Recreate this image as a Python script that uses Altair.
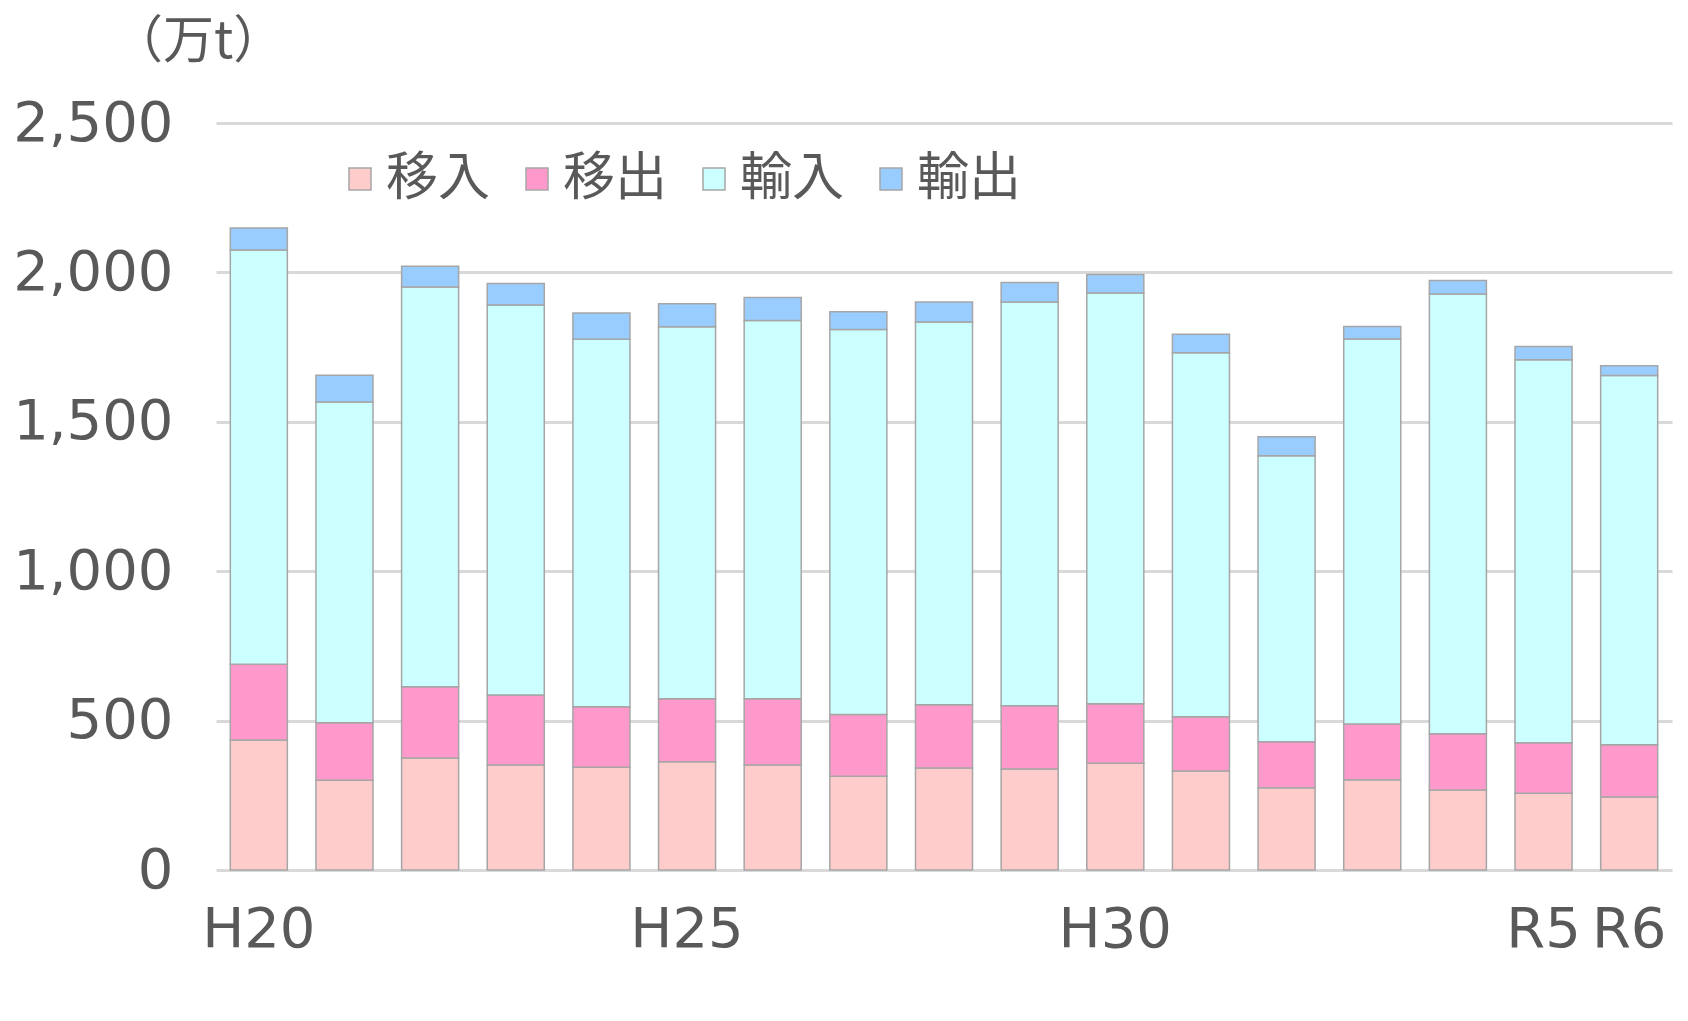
import altair as alt
import pandas as pd

categories = ["H20", "H21", "H22", "H23", "H24", "H25", "H26", "H27", "H28",
              "H29", "H30", "R1", "R2", "R3", "R4", "R5", "R6"]
series_names = ["移入", "移出", "輸入", "輸出"]
iri = [435, 300, 375, 351, 344, 362, 351, 314, 341, 338, 357, 331, 275, 302, 268, 257, 244]
ide = [254, 193, 238, 235, 202, 211, 222, 206, 212, 212, 199, 182, 154, 187, 188, 169, 175]
yunyu = [1386, 1073, 1338, 1305, 1230, 1245, 1266, 1289, 1281, 1351, 1375, 1218, 957, 1288, 1472, 1282, 1236]
yushutsu = [74, 90, 70, 72, 88, 77, 77, 59, 67, 65, 62, 62, 64, 42, 45, 44, 33]
colors = ["#ffcccc", "#ff99cc", "#ccffff", "#99ccff"]
shown_labels = ["H20", "H25", "H30", "R5", "R6"]
unit_title = ["（万t）"]

rows = []
for si, (name, vals) in enumerate(zip(series_names, [iri, ide, yunyu, yushutsu])):
    for c, v in zip(categories, vals):
        rows.append({"year": c, "series": name, "value": v, "ord": si})
df = pd.DataFrame(rows)

FONT = "DejaVu Sans, Noto Sans CJK JP, sans-serif"
CJK = "Noto Sans CJK JP, sans-serif"
TXT = "#595959"

label_expr = "indexof(" + str(shown_labels) + ", datum.value) >= 0 ? datum.value : ''"

bars = alt.Chart(df).mark_bar(stroke="#a6a6a6", strokeWidth=1.5).encode(
    x=alt.X("year:N", sort=categories,
            scale=alt.Scale(paddingInner=0.334, paddingOuter=0.167),
            axis=alt.Axis(title=None, labelExpr=label_expr, labelAngle=0,
                          labelFont=FONT, labelFontSize=56, labelColor=TXT,
                          labelPadding=32, ticks=False, tickSize=0, domain=False,
                          labelOverlap=False, labelLimit=400, grid=False)),
    y=alt.Y("value:Q", stack="zero",
            scale=alt.Scale(domain=[0, 2500], nice=False),
            axis=alt.Axis(title=None,
                          values=[0, 500, 1000, 1500, 2000, 2500], format=",.0f",
                          labelFont=FONT, labelFontSize=56, labelColor=TXT,
                          labelPadding=43, labelLimit=400, ticks=False, tickSize=0,
                          domain=False, grid=True, gridColor="#d9d9d9", gridWidth=3)),
    color=alt.Color("series:N", sort=series_names,
                    scale=alt.Scale(domain=series_names, range=colors),
                    legend=alt.Legend(title=None, orient="none", legendX=118, legendY=30,
                                      direction="horizontal", symbolType="square",
                                      symbolSize=484, symbolStrokeColor="#a6a6a6",
                                      symbolStrokeWidth=1.5, labelFont=CJK,
                                      labelFontSize=52, labelColor=TXT, labelOffset=0,
                                      labelLimit=400, columnPadding=20, padding=0)),
    order=alt.Order("ord:Q", sort="ascending"),
)

title_text = alt.Chart(pd.DataFrame({"t": unit_title})).mark_text(
    font=CJK, fontSize=51, color=TXT, align="left", baseline="middle"
).encode(
    text="t:N", x=alt.value(-104), y=alt.value(-80)
)

chart = alt.layer(bars, title_text).properties(
    width=1456, height=747,
    autosize=alt.AutoSizeParams(type="none"),
    padding={"left": 208, "top": 115, "right": 8, "bottom": 130},
    background="white",
).configure_view(stroke=None)

chart.save("out.html", embed_options={"renderer": "svg", "actions": False})
